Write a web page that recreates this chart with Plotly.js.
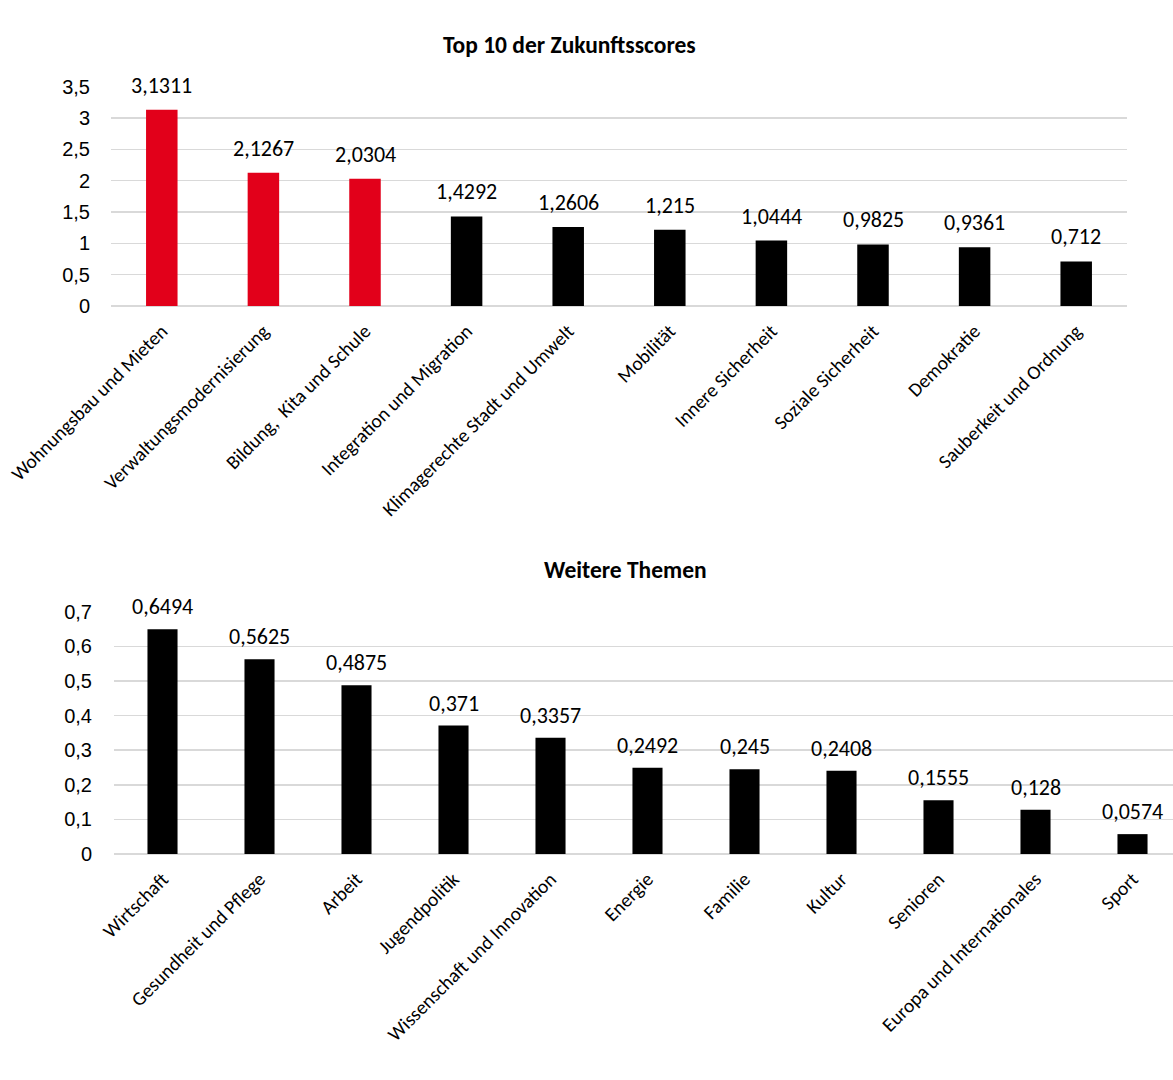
<!DOCTYPE html>
<html>
<head>
<meta charset="utf-8">
<script src="https://cdn.plot.ly/plotly-3.0.1.min.js"></script>
<style>html,body{margin:0;padding:0;background:#fff;}#chart{width:1173px;height:1080px;}</style>
</head>
<body>
<div id="chart"></div>
<script>
const topCategories = ["Wohnungsbau und Mieten","Verwaltungsmodernisierung","Bildung,  Kita und Schule","Integration und Migration","Klimagerechte Stadt und Umwelt","Mobilität","Innere Sicherheit","Soziale Sicherheit","Demokratie","Sauberkeit und Ordnung"];
const topValues = [3.1311, 2.1267, 2.0304, 1.4292, 1.2606, 1.215, 1.0444, 0.9825, 0.9361, 0.712];
const topColors = ["#E2001A","#E2001A","#E2001A","#000000","#000000","#000000","#000000","#000000","#000000","#000000"];

const bottomCategories = ["Wirtschaft","Gesundheit und Pflege","Arbeit","Jugendpolitik","Wissenschaft und Innovation","Energie","Familie","Kultur","Senioren","Europa und Internationales","Sport"];
const bottomValues = [0.6494, 0.5625, 0.4875, 0.371, 0.3357, 0.2492, 0.245, 0.2408, 0.1555, 0.128, 0.0574];

const topTitle = "Top 10 der Zukunftsscores";
const bottomTitle = "Weitere Themen";

const calibri = "Carlito, Lato, 'Open Sans', sans-serif";
const tickFontFamily = "'Liberation Sans', Arial, sans-serif";
const fmt = v => String(v).replace('.', ',');

const traces = [
  {type:'bar', x: topCategories, y: topValues, xaxis:'x', yaxis:'y', width:0.31,
   marker:{color: topColors}, hoverinfo:'skip'},
  {type:'bar', x: bottomCategories, y: bottomValues, xaxis:'x2', yaxis:'y2', width:0.31,
   marker:{color:'#000000'}, hoverinfo:'skip'}
];

const annotations = [];
topCategories.forEach((c,i)=>annotations.push({xref:'x', yref:'y', x:c, y:topValues[i], text:fmt(topValues[i]),
  showarrow:false, yanchor:'bottom', yshift:9, font:{family:calibri, size:22, color:'#000'}}));
bottomCategories.forEach((c,i)=>annotations.push({xref:'x2', yref:'y2', x:c, y:bottomValues[i], text:fmt(bottomValues[i]),
  showarrow:false, yanchor:'bottom', yshift:7, font:{family:calibri, size:22, color:'#000'}}));
annotations.push({xref:'paper', yref:'paper', x:569/1173, y:1-45/1080, text:'<b>'+topTitle+'</b>', showarrow:false,
  xanchor:'center', yanchor:'middle', font:{family:calibri, size:23.5, color:'#000'}});
annotations.push({xref:'paper', yref:'paper', x:625/1173, y:1-570/1080, text:'<b>'+bottomTitle+'</b>', showarrow:false,
  xanchor:'center', yanchor:'middle', font:{family:calibri, size:23.5, color:'#000'}});

const layout = {
  width:1173, height:1080,
  margin:{l:0, r:0, t:0, b:0},
  paper_bgcolor:'#fff', plot_bgcolor:'#fff',
  separators: ',.',
  showlegend:false,
  xaxis:{domain:[111/1173, 1127/1173], anchor:'y', tickangle:-45, showgrid:false, zeroline:false, showline:false,
    ticks:'', ticklabelstandoff:9, tickfont:{family:calibri, size:19.5, color:'#000'}, fixedrange:true},
  yaxis:{domain:[1-306/1080, 1-86.7/1080], anchor:'x', range:[0,3.5], dtick:0.5, tick0:0, showgrid:true,
    gridcolor:'#d9d9d9', gridwidth:1.5, zeroline:true, zerolinecolor:'#d9d9d9', zerolinewidth:1.5, showline:false,
    ticks:'', ticklabelstandoff:20, tickfont:{family:tickFontFamily, size:20, color:'#000'}, fixedrange:true},
  xaxis2:{domain:[114/1173, 1], anchor:'y2', range:[-0.5, -0.5 + 1059/97], tickangle:-45, showgrid:false, zeroline:false, showline:false,
    ticks:'', ticklabelstandoff:9, tickfont:{family:calibri, size:19.5, color:'#000'}, fixedrange:true},
  yaxis2:{domain:[1-854/1080, 1-611.7/1080], anchor:'x2', range:[0,0.7], dtick:0.1, tick0:0, showgrid:true,
    gridcolor:'#d9d9d9', gridwidth:1.5, zeroline:true, zerolinecolor:'#d9d9d9', zerolinewidth:1.5, showline:false,
    ticks:'', ticklabelstandoff:21, tickfont:{family:tickFontFamily, size:20, color:'#000'}, fixedrange:true},
  annotations: annotations
};

Plotly.newPlot('chart', traces, layout, {staticPlot:true, displayModeBar:false});
</script>
</body>
</html>
